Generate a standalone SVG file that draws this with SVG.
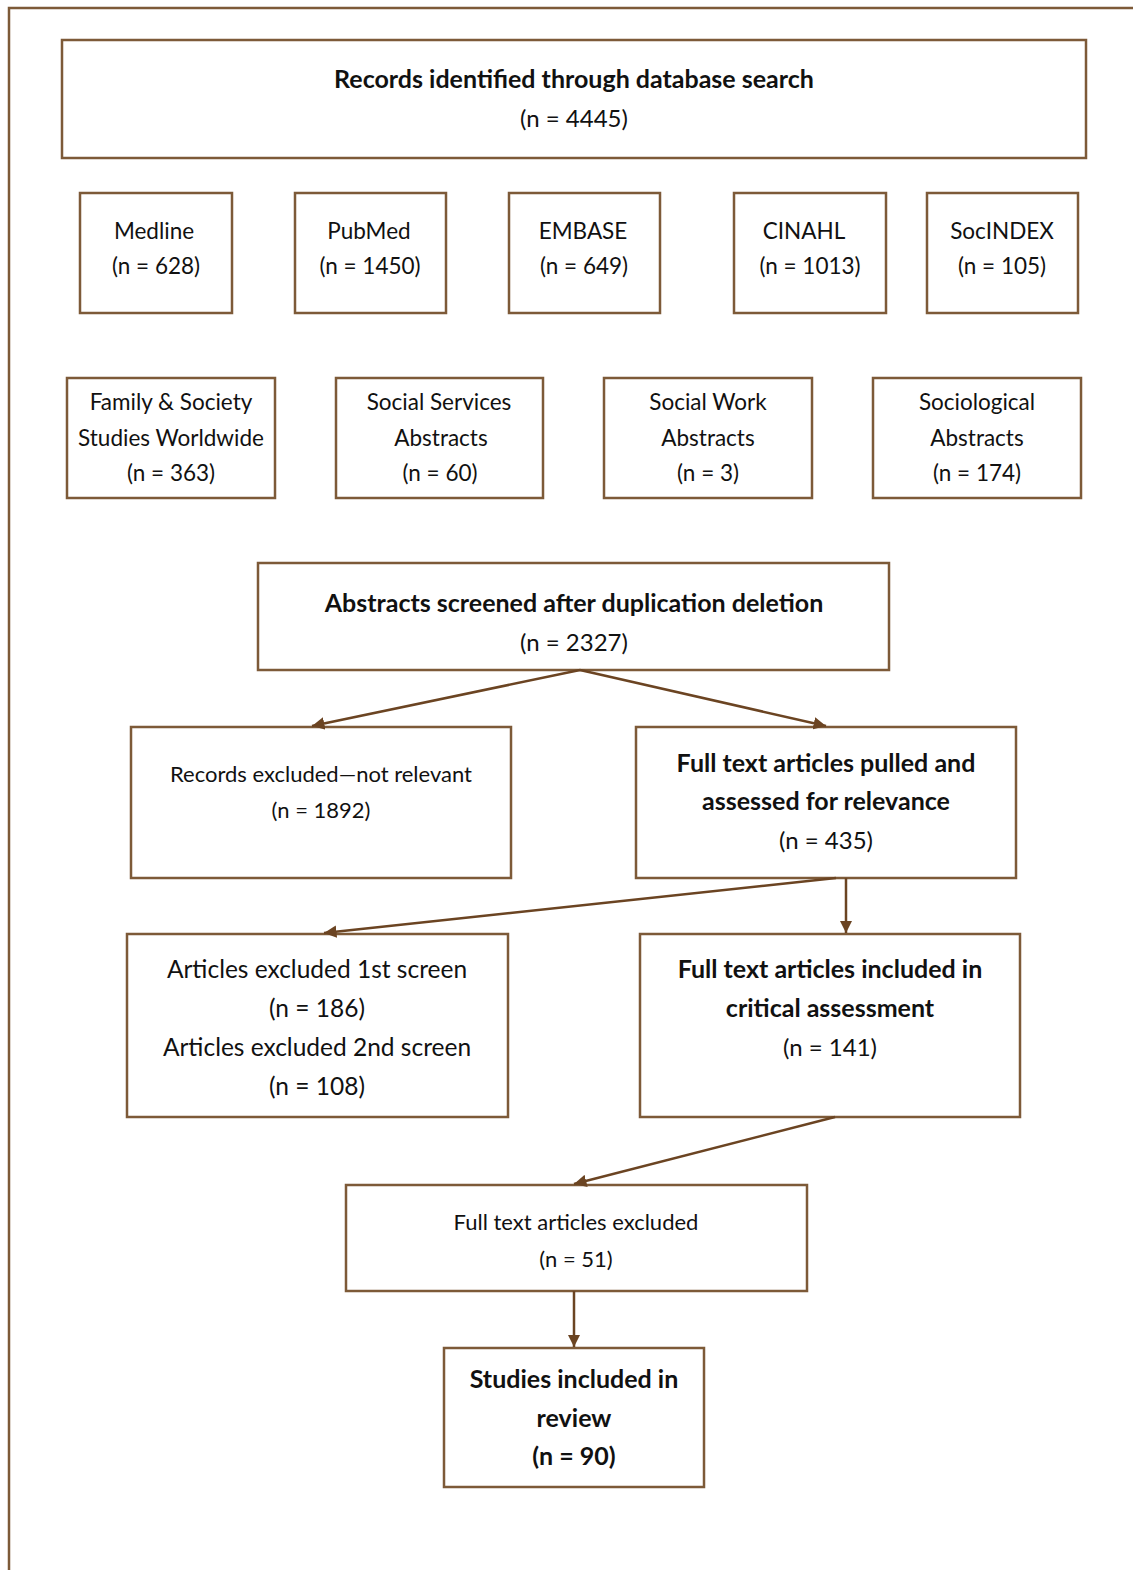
<svg xmlns="http://www.w3.org/2000/svg" width="1133" height="1570" viewBox="0 0 1133 1570">
<defs>
<marker id="ah" viewBox="0 0 10 10" refX="10" refY="5" markerWidth="5" markerHeight="5" orient="auto" markerUnits="strokeWidth">
<path d="M0,0 L10,5 L0,10 z" fill="#6b4422"/>
</marker>
<style>
.box{fill:#fff;stroke:#7d5a38;stroke-width:2.5}
.frame{fill:none;stroke:#7d5a38;stroke-width:2.5}
.t{font-family:Lato,"Open Sans","Liberation Sans",sans-serif;fill:#111;text-anchor:middle}
.b{font-weight:bold}
.conn{stroke:#6b4422;stroke-width:2.5;fill:none;marker-end:url(#ah)}
</style>
</defs>
<rect width="1133" height="1570" fill="#fff"/>
<path class="frame" d="M9,1570 L9,8 L1133,8"/>

<g id="n-records">
<rect class="box" x="62" y="40" width="1024" height="118"/>
<text class="t b" x="574" y="88" font-size="25">Records identified through database search</text>
<text class="t" x="574" y="127" font-size="24">(n = 4445)</text>
</g>
<g id="n-medline">
<rect class="box" x="80" y="193" width="152" height="120"/>
<text class="t" x="154" y="239" font-size="22.5">Medline</text>
<text class="t" x="156" y="274" font-size="22.5">(n = 628)</text>
</g>
<g id="n-pubmed">
<rect class="box" x="295" y="193" width="151" height="120"/>
<text class="t" x="369" y="239" font-size="22.5">PubMed</text>
<text class="t" x="370" y="274" font-size="22.5">(n = 1450)</text>
</g>
<g id="n-embase">
<rect class="box" x="509" y="193" width="151" height="120"/>
<text class="t" x="583" y="239" font-size="22.5">EMBASE</text>
<text class="t" x="584" y="274" font-size="22.5">(n = 649)</text>
</g>
<g id="n-cinahl">
<rect class="box" x="734" y="193" width="152" height="120"/>
<text class="t" x="804" y="239" font-size="22.5">CINAHL</text>
<text class="t" x="810" y="274" font-size="22.5">(n = 1013)</text>
</g>
<g id="n-socindex">
<rect class="box" x="927" y="193" width="151" height="120"/>
<text class="t" x="1002" y="239" font-size="22.5">SocINDEX</text>
<text class="t" x="1002" y="274" font-size="22.5">(n = 105)</text>
</g>

<g id="n-family">
<rect class="box" x="67" y="378" width="208" height="120"/>
<text class="t" x="171" y="410" font-size="22.5">Family &amp; Society</text>
<text class="t" x="171" y="446" font-size="22.5">Studies Worldwide</text>
<text class="t" x="171" y="481" font-size="22.5">(n = 363)</text>
</g>
<g id="n-socserv">
<rect class="box" x="336" y="378" width="207" height="120"/>
<text class="t" x="439" y="410" font-size="22.5">Social Services</text>
<text class="t" x="441" y="446" font-size="22.5">Abstracts</text>
<text class="t" x="440" y="481" font-size="22.5">(n = 60)</text>
</g>
<g id="n-socwork">
<rect class="box" x="604" y="378" width="208" height="120"/>
<text class="t" x="708" y="410" font-size="22.5">Social Work</text>
<text class="t" x="708" y="446" font-size="22.5">Abstracts</text>
<text class="t" x="708" y="481" font-size="22.5">(n = 3)</text>
</g>
<g id="n-sociol">
<rect class="box" x="873" y="378" width="208" height="120"/>
<text class="t" x="977" y="410" font-size="22.5">Sociological</text>
<text class="t" x="977" y="446" font-size="22.5">Abstracts</text>
<text class="t" x="977" y="481" font-size="22.5">(n = 174)</text>
</g>

<g id="n-abstracts">
<rect class="box" x="258" y="563" width="631" height="107"/>
<text class="t b" x="574" y="612" font-size="25">Abstracts screened after duplication deletion</text>
<text class="t" x="574" y="651" font-size="24">(n = 2327)</text>
</g>
<g id="n-recexcl">
<rect class="box" x="131" y="727" width="380" height="151"/>
<text class="t" x="321" y="782" font-size="22">Records excluded—not relevant</text>
<text class="t" x="321" y="818" font-size="22">(n = 1892)</text>
</g>
<g id="n-fullpulled">
<rect class="box" x="636" y="727" width="380" height="151"/>
<text class="t b" x="826" y="772" font-size="25">Full text articles pulled and</text>
<text class="t b" x="826" y="810" font-size="25">assessed for relevance</text>
<text class="t" x="826" y="849" font-size="24">(n = 435)</text>
</g>
<g id="n-artexcl">
<rect class="box" x="127" y="934" width="381" height="183"/>
<text class="t" x="317" y="978" font-size="24.5">Articles excluded 1st screen</text>
<text class="t" x="317" y="1017" font-size="24.5">(n = 186)</text>
<text class="t" x="317" y="1056" font-size="24.5">Articles excluded 2nd screen</text>
<text class="t" x="317" y="1095" font-size="24.5">(n = 108)</text>
</g>
<g id="n-fullincl">
<rect class="box" x="640" y="934" width="380" height="183"/>
<text class="t b" x="830" y="978" font-size="25">Full text articles included in</text>
<text class="t b" x="830" y="1017" font-size="25">critical assessment</text>
<text class="t" x="830" y="1056" font-size="24">(n = 141)</text>
</g>
<g id="n-fullexcl">
<rect class="box" x="346" y="1185" width="461" height="106"/>
<text class="t" x="576" y="1230" font-size="22">Full text articles excluded</text>
<text class="t" x="576" y="1267" font-size="22">(n = 51)</text>
</g>
<g id="n-studies">
<rect class="box" x="444" y="1348" width="260" height="139"/>
<text class="t b" x="574" y="1388" font-size="25">Studies included in</text>
<text class="t b" x="574" y="1427" font-size="25">review</text>
<text class="t b" x="574" y="1465" font-size="25">(n = 90)</text>
</g>

<g id="connectors">
<line class="conn" x1="580" y1="670" x2="312" y2="726"/>
<line class="conn" x1="580" y1="670" x2="826" y2="726"/>
<line class="conn" x1="836" y1="878" x2="324" y2="933"/>
<line class="conn" x1="846" y1="878" x2="846" y2="933"/>
<line class="conn" x1="835" y1="1117" x2="574" y2="1184"/>
<line class="conn" x1="574" y1="1291" x2="574" y2="1347"/>
</g>
</svg>
